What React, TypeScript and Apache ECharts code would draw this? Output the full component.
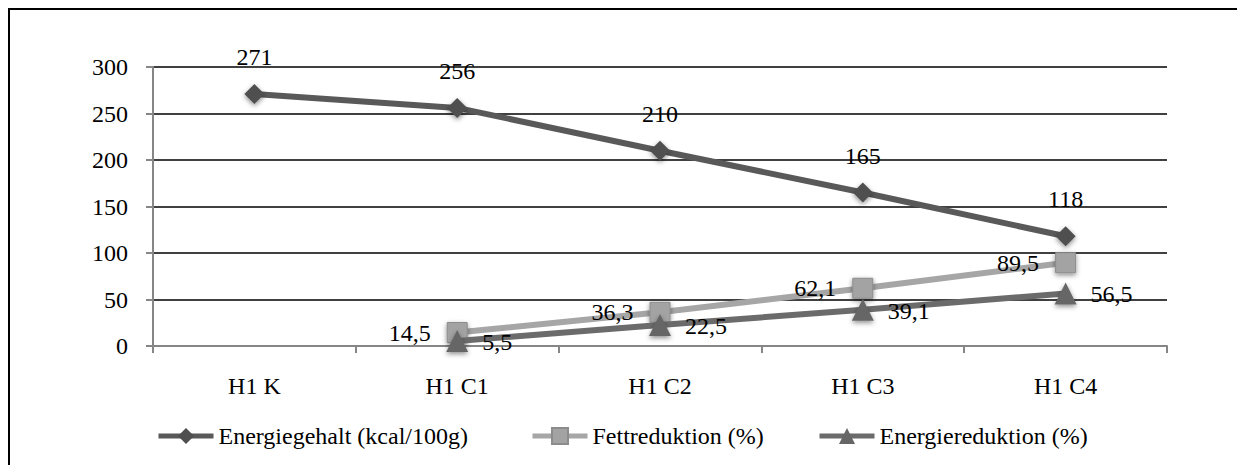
import React, { useEffect, useRef } from "react";
import * as echarts from "echarts";

const categories = ["H1 K", "H1 C1", "H1 C2", "H1 C3", "H1 C4"];
const energiegehalt = [271, 256, 210, 165, 118];
const fettreduktion = [null, 14.5, 36.3, 62.1, 89.5];
const energiereduktion = [null, 5.5, 22.5, 39.1, 56.5];
const yTicks = [0, 50, 100, 150, 200, 250, 300];
const seriesNames = ["Energiegehalt (kcal/100g)", "Fettreduktion (%)", "Energiereduktion (%)"];

const FONT = "Liberation Serif";
const fmt = (p: any) => String(p.value).replace(".", ",");

export default function App() {
  const ref = useRef<HTMLDivElement>(null);
  useEffect(() => {
    document.documentElement.style.overflow = "hidden";
    const chart = echarts.init(ref.current!, null, { renderer: "svg" });
    const shadow = { shadowBlur: 5, shadowColor: "rgba(0,0,0,0.45)", shadowOffsetY: 2 };
    const legendLefts = [146, 520, 807];
    const legend = seriesNames.map((n, i) => ({
      data: [n],
      top: 414,
      left: legendLefts[i],
      padding: 0,
      itemWidth: 55,
      itemHeight: 20,
      itemGap: 4,
      lineStyle: { width: 5 },
      textStyle: { fontFamily: FONT, fontSize: 24, color: "#000" },
    }));
    chart.setOption({
      animation: false,
      textStyle: { fontFamily: FONT },
      grid: { left: 143, right: 78, top: 57, bottom: 119 },
      legend,
      xAxis: {
        type: "category",
        data: categories,
        boundaryGap: true,
        axisLine: { lineStyle: { color: "#868686", width: 2 } },
        axisTick: { show: true, length: 7, lineStyle: { color: "#868686", width: 2 } },
        axisLabel: { fontFamily: FONT, fontSize: 24, color: "#000", margin: 28 },
      },
      yAxis: {
        type: "value",
        min: yTicks[0],
        max: yTicks[yTicks.length - 1],
        interval: 50,
        axisLine: { show: true, lineStyle: { color: "#868686", width: 2 } },
        axisTick: { show: true, length: 7, lineStyle: { color: "#868686", width: 2 } },
        axisLabel: { fontFamily: FONT, fontSize: 24, color: "#000", margin: 25 },
        splitLine: { lineStyle: { color: "#000", width: 1.5 } },
      },
      series: [
        {
          name: seriesNames[0],
          type: "line",
          data: energiegehalt,
          symbol: "diamond",
          symbolSize: 20,
          lineStyle: { color: "#595959", width: 6 },
          itemStyle: { color: "#4f4f4f", ...shadow },
          label: {
            show: true,
            position: "top",
            distance: 15,
            formatter: fmt,
            fontFamily: FONT,
            fontSize: 24,
            color: "#000",
          },
          z: 3,
        },
        {
          name: seriesNames[1],
          type: "line",
          data: fettreduktion,
          symbol: "rect",
          symbolSize: 20,
          lineStyle: { color: "#a6a6a6", width: 6 },
          itemStyle: { color: "#a3a3a3", borderColor: "#8c8c8c", borderWidth: 1, ...shadow },
          label: {
            show: true,
            position: "left",
            distance: 16,
            formatter: fmt,
            fontFamily: FONT,
            fontSize: 24,
            color: "#000",
          },
          z: 2,
        },
        {
          name: seriesNames[2],
          type: "line",
          data: energiereduktion,
          symbol: "triangle",
          symbolSize: 22,
          lineStyle: { color: "#6b6b6b", width: 6 },
          itemStyle: { color: "#666666", ...shadow },
          label: {
            show: true,
            position: "right",
            distance: 14,
            offset: [0, 1],
            formatter: fmt,
            fontFamily: FONT,
            fontSize: 24,
            color: "#000",
          },
          z: 4,
        },
      ],
    });
    return () => chart.dispose();
  }, []);
  return (
    <div
      style={{
        width: 1237,
        height: 457,
        borderTop: "2px solid #000",
        borderLeft: "2px solid #000",
        boxSizing: "border-box",
      }}
    >
      <div ref={ref} style={{ width: 1235, height: 455 }} />
    </div>
  );
}
